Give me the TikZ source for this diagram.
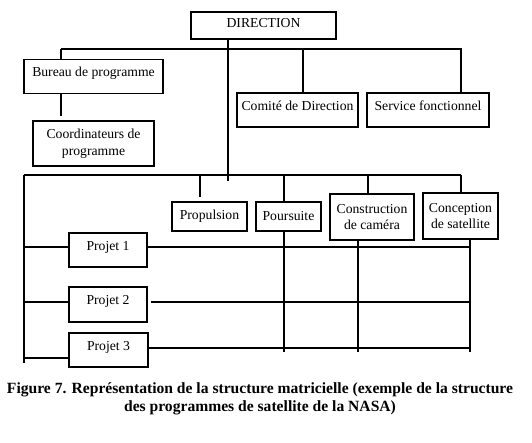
\documentclass[tikz,border=0pt]{standalone}
\usepackage{fontspec}
\setmainfont{Liberation Serif}
\begin{document}
\begin{tikzpicture}[x=1pt,y=-1pt,
  box/.style={draw,line width=1.2pt,inner sep=1pt,align=center,font=\fontsize{13.7}{16.5}\selectfont},
  raised/.style={text depth=9pt},
  ln/.style={line width=1.2pt}]
\useasboundingbox (0,0) rectangle (532,443);
% boxes
\node[box,text depth=5pt,minimum width=145pt,minimum height=27pt] (dir) at (263.5,25.5) {DIRECTION};
\node[box,raised,minimum width=139pt,minimum height=34pt,anchor=north] (bureau) at (93.5,59) {Bureau de programme};
\node[box,minimum width=121pt,minimum height=45pt] (coord) at (93.5,143.5) {Coordinateurs de\\programme};
\node[box,raised,minimum width=121pt,minimum height=34pt,inner sep=0pt] (comite) at (297.5,110) {Comité de Direction};
\node[box,raised,minimum width=122pt,minimum height=34pt,inner sep=0pt] (service) at (428,110) {Service fonctionnel};
\node[box,minimum width=75pt,minimum height=29pt] (prop) at (209.5,216.5) {Propulsion};
\node[box,minimum width=65pt,minimum height=29pt] (pours) at (288.5,216.5) {Poursuite};
\node[box,minimum width=84pt,minimum height=46pt] (constr) at (372,217) {Construction\\de caméra};
\node[box,minimum width=75pt,minimum height=46pt] (concep) at (460.5,216) {Conception\\de satellite};
\node[box,raised,minimum width=78pt,minimum height=34pt] (p1) at (108,250) {Projet 1};
\node[box,raised,minimum width=78pt,minimum height=35pt] (p2) at (108,304.5) {Projet 2};
\node[box,raised,minimum width=79pt,minimum height=34pt] (p3) at (108.5,350) {Projet 3};
% top structure
\coordinate (dv) at (228,39);
\coordinate (dvEnd) at (228,181);
\draw[ln] (dv) -- (dvEnd);
\coordinate (hA) at (61,49);
\coordinate (hB) at (303,49);
\coordinate (hC) at (461,49);
\draw[ln] (hA) -- (462,49);
\draw[ln] (hA) -- (hA |- bureau.north);
\draw[ln] (hB) -- (hB |- comite.north);
\draw[ln] (hC) -- (hC |- service.north);
\coordinate (bEnd) at (61,116);
\draw[ln] (bEnd |- bureau.south) -- (bEnd);
% matrix structure
\coordinate (mL) at (24,175);
\coordinate (mR) at (461,175);
\coordinate (mLEnd) at (24,363);
\draw[ln] (mL) -- (mR);
\draw[ln] (mL) -- (mLEnd);
\coordinate (vP) at (200,175);
\coordinate (vPEnd) at (200,197);
\draw[ln] (vP) -- (vPEnd);
\coordinate (vQ) at (284,175);
\draw[ln] (vQ) -- (vQ |- pours.north);
\coordinate (vC) at (368,175);
\draw[ln] (vC) -- (vC |- constr.north);
\draw[ln] (mR) -- (mR |- concep.north);
% column lines
\coordinate (cQ) at (284,352);
\coordinate (cC) at (358,352);
\coordinate (cS) at (470,352);
\draw[ln] (cQ |- pours.south) -- (cQ);
\draw[ln] (cC |- constr.south) -- (cC);
\draw[ln] (cS |- concep.south) -- (cS);
% project rows
\coordinate (r1) at (24,247);
\coordinate (r2) at (24,302);
\coordinate (r3) at (24,358);
\draw[ln] (r1) -- (r1 -| p1.west);
\draw[ln] (r2) -- (r2 -| p2.west);
\draw[ln] (r3) -- (r3 -| p3.west);
\coordinate (e1) at (470,247);
\coordinate (e2) at (470,302);
\coordinate (e3) at (470,348);
\coordinate (s2) at (151,302);
\draw[ln] (e1 -| p1.east) -- (e1);
\draw[ln] (s2) -- (e2);
\draw[ln] (e3 -| p3.east) -- (e3);
% caption
\node[align=center,font=\fontsize{15.6}{18}\selectfont\bfseries,inner sep=0pt] (cap) at (260,399)
  {Figure 7. Représentation de la structure matricielle (exemple de la structure\\des programmes de satellite de la NASA)};
\end{tikzpicture}
\end{document}
